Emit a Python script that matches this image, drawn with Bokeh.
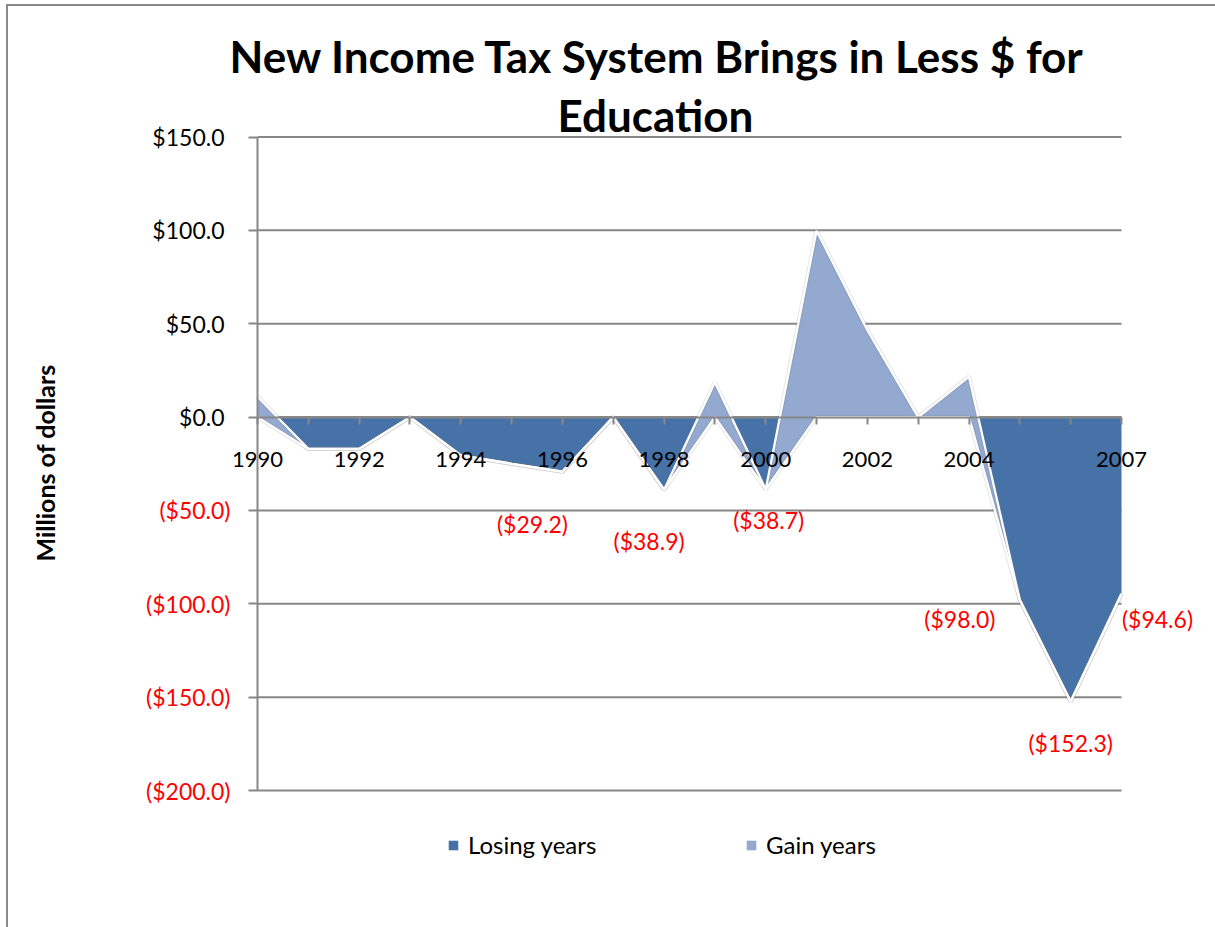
from bokeh.plotting import figure
from bokeh.models import (ColumnDataSource, Range1d, FixedTicker, Title, Legend, LegendItem,
                          LabelSet, CustomJSTickFormatter)
from bokeh.core.properties import value
from bokeh.embed import file_html
from bokeh.resources import INLINE

# ---- data ----
years = list(range(1990, 2008))
losing = [0, -17.0, -17.0, 0, -20.5, -25.0, -29.2, 0, -38.9, 0, -38.7, 0, 0, 0, 0, -98.0, -152.3, -94.6]
gain = [10.9, 0, 0, 0, 0, 0, 0, 0, 0, 18.6, 0, 99.8, 46.5, 0, 21.6, 0, 0, 0]
y_ticks = [-200, -150, -100, -50, 0, 50, 100, 150]
x_label_years = [1990, 1992, 1994, 1996, 1998, 2000, 2002, 2004, 2007]
label_years = [1996, 1998, 2000, 2005, 2006, 2007]
label_values = [-29.2, -38.9, -38.7, -98.0, -152.3, -94.6]

# ---- styles / layout ----
DARK = "#4672A8"
LIGHT = "#93A9CF"
GRID = "#878787"
FONT = "Lato"
label_dx = [-30, -15, 3, -60, 0, 36]
label_dy = [-52, -51, -31, -19, -42, -25]

CANVAS_X0, CANVAS_Y0 = 8, 6            # canvas origin on the page (after css margin + border)
W, H = 1215 - CANVAS_X0, 927 - CANVAS_Y0
PLOT_L, PLOT_R, PLOT_T, PLOT_B = 257, 1121, 136.5, 790   # visible plot area (page px)
FR_L, FR_R, FR_T, FR_B = 80, 1210, 124, 905               # drawing frame (page px)

x_first, x_last = years[0], years[-1]
y_lo, y_hi = min(y_ticks), max(y_ticks)
ppx = (PLOT_R - PLOT_L) / (x_last - x_first)
ppy = (PLOT_B - PLOT_T) / (y_hi - y_lo)
x_start = x_first - (PLOT_L - FR_L) / ppx
x_end = x_last + (FR_R - PLOT_R) / ppx
y_end = y_hi + (PLOT_T - FR_T) / ppy
y_start = y_lo - (FR_B - PLOT_B) / ppy

src = ColumnDataSource(dict(year=years, losing=losing, gain=gain))

p = figure(frame_width=FR_R - FR_L, frame_height=FR_B - FR_T, output_backend="svg", toolbar_location=None,
           x_range=Range1d(x_start, x_end), y_range=Range1d(y_start, y_end),
           min_border_left=FR_L - CANVAS_X0, min_border_right=W - (FR_R - CANVAS_X0),
           min_border_top=FR_T - CANVAS_Y0, min_border_bottom=H - (FR_B - CANVAS_Y0))
p.styles = {"margin-left": "6px", "margin-top": "4px",
            "border-left": "2px solid #8a8a8a", "border-top": "2px solid #8a8a8a"}
p.outline_line_color = None
p.background_fill_color = "white"
p.border_fill_color = "white"
p.xgrid.visible = False
p.ygrid.visible = False

# horizontal gridlines across the plot area only
grid_src = ColumnDataSource(dict(x0=[x_first] * len(y_ticks), x1=[x_last] * len(y_ticks), y=y_ticks))
p.segment(x0="x0", x1="x1", y0="y", y1="y", source=grid_src, line_color=GRID, line_width=2)

areas = p.varea_stack(["losing", "gain"], x="year", color=[DARK, LIGHT], source=src)
p.vline_stack(["losing", "gain"], x="year", color="#7f7f7f", line_width=4.5, alpha=0.18, source=src)
p.vline_stack(["losing", "gain"], x="year", color="white", line_width=2.2, source=src)

# y axis drawn at the first category
ya = p.yaxis[0]
ya.fixed_location = x_first
ya.bounds = (y_lo, y_hi)
ya.ticker = FixedTicker(ticks=y_ticks)
ya.formatter = CustomJSTickFormatter(code="return tick >= 0 ? '$' + tick.toFixed(1) : '';")
ya.axis_line_color = GRID
ya.axis_line_width = 2
ya.major_tick_line_color = GRID
ya.major_tick_line_width = 2
ya.major_tick_out = 9
ya.major_tick_in = 0
ya.minor_tick_line_color = None
ya.major_label_text_font = FONT
ya.major_label_text_font_size = "23px"
ya.major_label_text_color = "black"
ya.major_label_standoff = 24

neg_ticks = [t for t in y_ticks if t < 0]
neg_src = ColumnDataSource(dict(x=[x_first] * len(neg_ticks), y=neg_ticks,
                                text=["($%.1f)" % abs(t) for t in neg_ticks]))
p.add_layout(LabelSet(x="x", y="y", text="text", source=neg_src, x_offset=-27,
                      text_align="right", text_baseline="middle", text_color="red",
                      text_font=value(FONT), text_font_size=value("23px")))

# y title
p.add_layout(Title(text="Millions of dollars", align="left", offset=FR_B - 561, vertical_align="middle",
                   standoff=40, text_font=FONT, text_font_size="25px", text_font_style="bold",
                   text_color="black"), "left")

# x axis at zero
xa = p.xaxis[0]
xa.fixed_location = 0
xa.bounds = (x_first, x_last)
xa.ticker = FixedTicker(ticks=years)
xa.major_label_overrides = {y: (str(y) if y in x_label_years else "") for y in years}
xa.axis_line_color = GRID
xa.axis_line_width = 2
xa.major_tick_line_color = GRID
xa.major_tick_line_width = 2
xa.major_tick_out = 7
xa.major_tick_in = 0
xa.minor_tick_line_color = None
xa.major_label_text_font = FONT
xa.major_label_text_font_size = "22px"
xa.major_label_text_color = "black"
xa.major_label_standoff = 28

# data labels
lab_src = ColumnDataSource(dict(x=label_years, y=label_values,
                                text=["($%.1f)" % abs(v) for v in label_values],
                                dx=label_dx, dy=label_dy))
p.add_layout(LabelSet(x="x", y="y", text="text", source=lab_src, x_offset="dx", y_offset="dy",
                      text_align="center", text_baseline="middle", text_color="red",
                      text_font=value(FONT), text_font_size=value("23px")))

# titles
p.add_layout(Title(text="Education", align="left", offset=557 - FR_L, text_font=FONT, text_font_size="44px",
                   text_font_style="bold", text_color="black", standoff=-33), "above")
p.add_layout(Title(text="New Income Tax System Brings in Less $ for", align="left", offset=229 - FR_L,
                   text_font=FONT, text_font_size="44px", text_font_style="bold", text_color="black",
                   standoff=43), "above")

legend = Legend(items=[LegendItem(label="Losing years", renderers=[areas[0]]),
                       LegendItem(label="Gain years", renderers=[areas[1]])],
                orientation="horizontal", location=(367, 46),
                glyph_width=12, glyph_height=12, label_standoff=9, label_width=200, spacing=77,
                label_text_font=FONT, label_text_font_size="24px", label_text_color="black",
                border_line_color=None, background_fill_alpha=0, padding=0, margin=0)
p.add_layout(legend, "center")

open("out.html", "w").write(file_html(p, INLINE))
